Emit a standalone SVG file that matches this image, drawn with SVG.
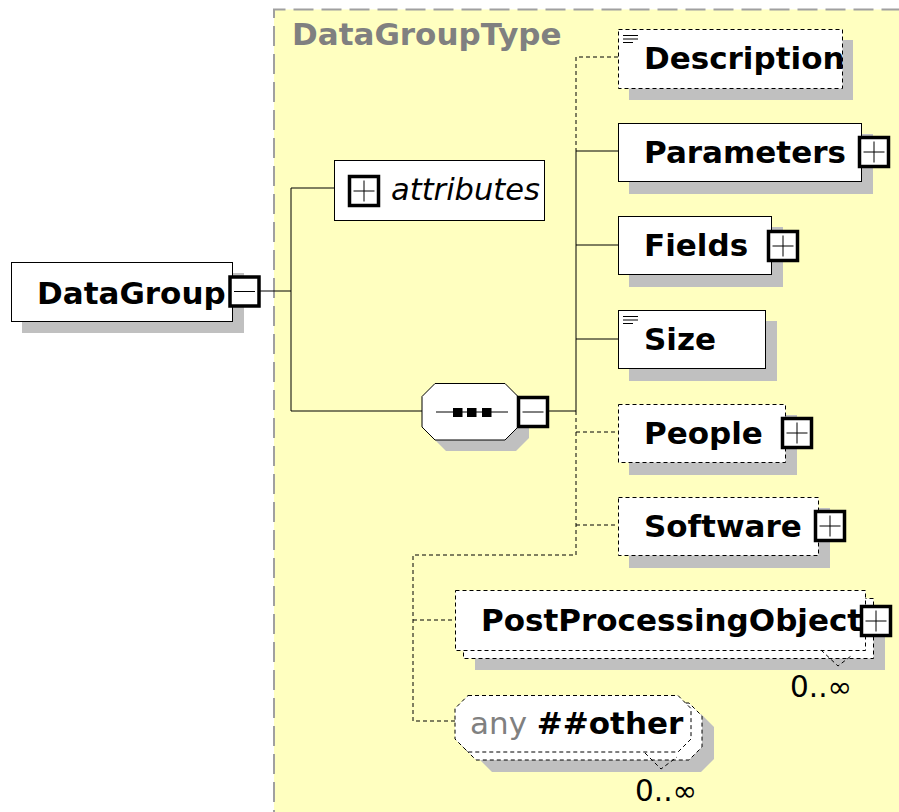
<svg xmlns="http://www.w3.org/2000/svg" width="899" height="812" viewBox="0 0 899 812">
  <style>
    .box { fill: #ffffff; stroke: #000000; stroke-width: 1; }
    .opt { fill: #ffffff; stroke: #000000; stroke-width: 1; stroke-dasharray: 4,3; }
    .shadow { fill: #c0c0c0; stroke: none; }
    .name { font-family: "DejaVu Sans", sans-serif; font-weight: bold; font-size: 31px; fill: #000000; }
    .attr { font-family: "DejaVu Sans", sans-serif; font-style: italic; font-size: 30.5px; fill: #000000; }
    .occ { font-family: "DejaVu Sans", sans-serif; font-size: 29.5px; fill: #000000; }
    .title { font-family: "DejaVu Sans", sans-serif; font-weight: bold; font-size: 31px; fill: #808080; }
    .any { font-family: "DejaVu Sans", sans-serif; font-size: 31px; fill: #808080; }
    .toggle { fill: #ffffff; stroke: #000000; stroke-width: 3.5; }
    .thin { stroke: #000000; stroke-width: 1; fill: none; }
    .solid { stroke: #000000; stroke-width: 1; fill: none; }
    .dash { stroke: #000000; stroke-width: 1; fill: none; stroke-dasharray: 4,3; }
    .doc { stroke: #000000; stroke-width: 1; }
  </style>
  <defs>
    <g id="plus">
      <rect class="toggle" x="0" y="0" width="29" height="29"/>
      <line class="thin" x1="4" y1="14.5" x2="25" y2="14.5"/>
      <line class="thin" x1="14.5" y1="4" x2="14.5" y2="25"/>
    </g>
    <g id="minus">
      <rect class="toggle" x="0" y="0" width="29" height="29"/>
      <line class="thin" x1="4" y1="14.5" x2="25" y2="14.5"/>
    </g>
    <g id="docicon">
      <line class="doc" x1="623" y1="0.5" x2="638" y2="0.5"/>
      <line class="doc" x1="623" y1="4" x2="638" y2="4"/>
      <line class="doc" x1="623" y1="7.5" x2="633" y2="7.5"/>
    </g>
  </defs>

  <rect width="899" height="812" fill="#ffffff"/>

  <!-- complex type container -->
  <g id="DataGroupType">
    <rect x="274" y="9.5" width="640" height="820" fill="#ffffc0"/>
    <path d="M274 830 V9.5 H914" fill="none" stroke="#a0a0a0" stroke-width="2" stroke-dasharray="20,8"/>
    <text class="title" x="292" y="45">DataGroupType</text>
  </g>

  <!-- connectors -->
  <g id="connectors">
    <polyline class="solid" points="259,291 291,291"/>
    <polyline class="solid" points="334,188 291,188 291,411 422,411"/>
    <polyline class="solid" points="548,411 576,411"/>
    <polyline class="solid" points="576,151 576,411"/>
    <polyline class="solid" points="576,151 618,151"/>
    <polyline class="solid" points="576,245 618,245"/>
    <polyline class="solid" points="576,339 618,339"/>
    <polyline class="dash" points="618,57 576,57 576,151"/>
    <polyline class="dash" points="576,411 576,555 413,555 413,721 455,721"/>
    <polyline class="dash" points="576,432 618,432"/>
    <polyline class="dash" points="576,525 618,525"/>
    <polyline class="dash" points="413,620 455,620"/>
  </g>

  <!-- root element -->
  <g id="DataGroup">
    <rect class="shadow" x="22" y="273" width="222" height="60"/>
    <rect class="box" x="11.5" y="262.5" width="221" height="59"/>
    <text class="name" x="37" y="304">DataGroup</text>
    <use href="#minus" x="230" y="277"/>
  </g>

  <!-- attributes -->
  <g id="attributes">
    <rect class="box" x="334.5" y="160.5" width="210" height="60"/>
    <use href="#plus" x="349.5" y="176.5"/>
    <text class="attr" x="391" y="200">attributes</text>
  </g>

  <!-- sequence compositor -->
  <g id="sequence">
    <polygon class="shadow" points="446,394 516,394 529,407 529,438 516,451 446,451 433,438 433,407"/>
    <polygon class="box" points="435,383.5 505,383.5 518,396.5 518,427 505,440 435,440 422,427 422,396.5"/>
    <line class="thin" x1="436" y1="412" x2="508" y2="412"/>
    <rect x="453" y="408" width="9.5" height="9" fill="#000000"/>
    <rect x="467" y="408" width="9.5" height="9" fill="#000000"/>
    <rect x="482" y="408" width="9.5" height="9" fill="#000000"/>
    <use href="#minus" x="518.5" y="397.5"/>
  </g>

  <g id="Description">
    <rect class="shadow" x="629" y="40" width="224" height="60"/>
    <rect class="opt" x="618.5" y="29.5" width="224" height="59"/>
    <use href="#docicon" x="0" y="35"/>
    <text class="name" x="644" y="69">Description</text>
  </g>

  <g id="Parameters">
    <rect class="shadow" x="629" y="134" width="244" height="60"/>
    <rect class="box" x="618.5" y="123.5" width="243" height="58"/>
    <text class="name" x="644" y="163">Parameters</text>
    <use href="#plus" x="859.5" y="137.5"/>
  </g>

  <g id="Fields">
    <rect class="shadow" x="629" y="227" width="154" height="60"/>
    <rect class="box" x="618.5" y="216.5" width="153" height="58"/>
    <text class="name" x="644" y="256">Fields</text>
    <use href="#plus" x="768.5" y="231.5"/>
  </g>

  <g id="Size">
    <rect class="shadow" x="629" y="321" width="148" height="60"/>
    <rect class="box" x="618.5" y="310.5" width="147" height="58"/>
    <use href="#docicon" x="0" y="316"/>
    <text class="name" x="644" y="350">Size</text>
  </g>

  <g id="People">
    <rect class="shadow" x="629" y="415" width="168" height="60"/>
    <rect class="opt" x="618.5" y="404.5" width="167" height="58"/>
    <text class="name" x="644" y="444">People</text>
    <use href="#plus" x="782.5" y="418.5"/>
  </g>

  <g id="Software">
    <rect class="shadow" x="629" y="508" width="201" height="60"/>
    <rect class="opt" x="618.5" y="497.5" width="200" height="58"/>
    <text class="name" x="644" y="537">Software</text>
    <use href="#plus" x="815.5" y="511.5"/>
  </g>

  <g id="PostProcessingObject">
    <rect class="shadow" x="475" y="609" width="410" height="61"/>
    <rect class="opt" x="463.5" y="598.5" width="410" height="60"/>
    <rect class="opt" x="455.5" y="590.5" width="410" height="60"/>
    <text class="name" x="481" y="631">PostProcessingObject</text>
    <use href="#plus" x="861.5" y="606.5"/>
    <polyline class="dash" points="821,650 838,666 851,656"/>
    <text class="occ" x="790" y="697">0..∞</text>
  </g>

  <g id="any">
    <polygon class="shadow" points="492,714 701,714 714,727 714,759 701,772 492,772 479,759 479,727"/>
    <polygon class="opt" points="476,703 689,703 702,716 702,747 689,760 476,760 463,747 463,716"/>
    <polygon class="opt" points="468,695.5 678,695.5 691,708.5 691,739 678,752 468,752 455,739 455,708.5"/>
    <text x="470" y="734"><tspan class="any">any </tspan><tspan class="name">##other</tspan></text>
    <polyline class="dash" points="645,753 661,769 677,757"/>
    <text class="occ" x="635" y="801">0..∞</text>
  </g>
</svg>
